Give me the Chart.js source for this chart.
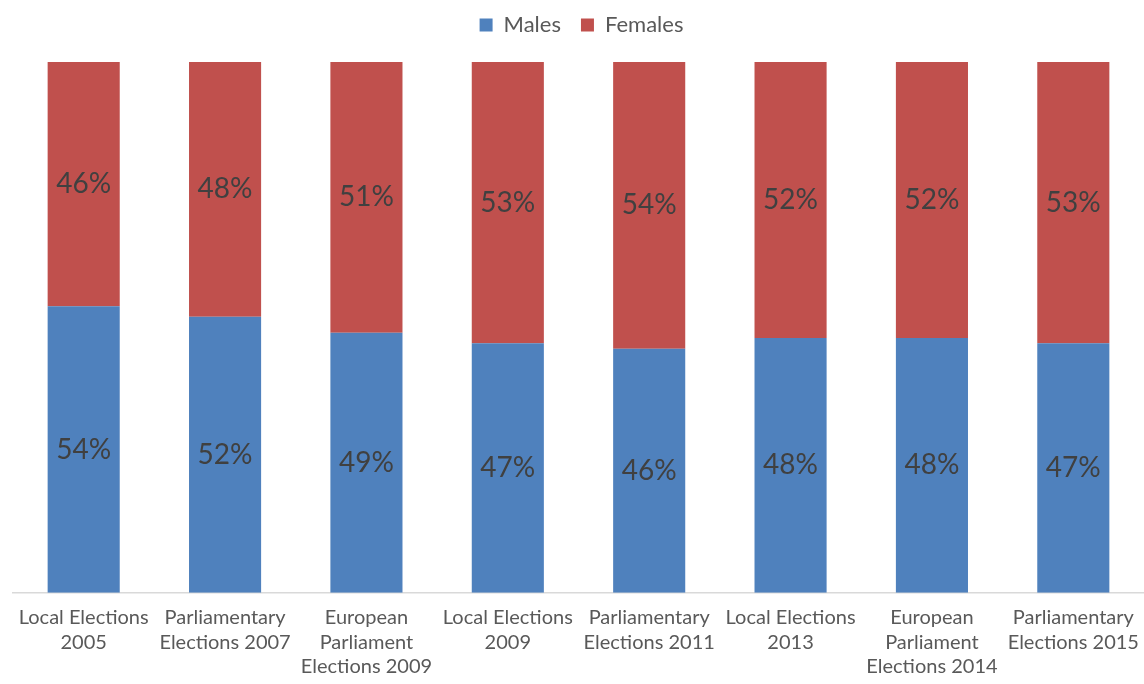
<!DOCTYPE html>
<html>
<head>
<meta charset="utf-8">
<script src="https://cdn.jsdelivr.net/npm/chart.js@4"></script>
<style>
html,body{margin:0;padding:0;background:#fff;}
#wrap{width:1144px;height:684px;position:relative;}
</style>
</head>
<body>
<div id="wrap"><canvas id="c" width="1144" height="684"></canvas></div>
<script>
const categories = [
  ["Local Elections", "2005"],
  ["Parliamentary", "Elections 2007"],
  ["European", "Parliament", "Elections 2009"],
  ["Local Elections", "2009"],
  ["Parliamentary", "Elections 2011"],
  ["Local Elections", "2013"],
  ["European", "Parliament", "Elections 2014"],
  ["Parliamentary", "Elections 2015"]
];
const males = [54, 52, 49, 47, 46, 48, 48, 47];
const females = [46, 48, 51, 53, 54, 52, 52, 53];

const FONT = "Lato, 'Open Sans', sans-serif";

const segLabels = {
  id: 'segLabels',
  afterDatasetsDraw(chart) {
    const ctx = chart.ctx;
    ctx.save();
    ctx.font = "28px " + FONT;
    ctx.fillStyle = "#404040";
    ctx.textAlign = "center";
    ctx.textBaseline = "middle";
    chart.data.datasets.forEach((ds, i) => {
      const meta = chart.getDatasetMeta(i);
      meta.data.forEach((el, j) => {
        const y = (el.y + el.base) / 2;
        ctx.fillText(ds.data[j] + "%", el.x, y);
      });
    });
    ctx.restore();
  }
};

const legendSpace = {
  id: 'legendSpace',
  beforeInit(chart) {
    const orig = chart.legend.fit;
    chart.legend.fit = function () {
      orig.call(this);
      this.height += 16;
    };
  }
};

new Chart(document.getElementById('c'), {
  type: 'bar',
  data: {
    labels: categories,
    datasets: [
      { label: 'Males', data: males, backgroundColor: '#4F81BD', borderWidth: 0,
        categoryPercentage: 1, barPercentage: 0.51 },
      { label: 'Females', data: females, backgroundColor: '#C0504D', borderWidth: 0,
        categoryPercentage: 1, barPercentage: 0.51 }
    ]
  },
  options: {
    responsive: false,
    animation: false,
    devicePixelRatio: 1,
    layout: { padding: { left: 13, right: -6, top: -6, bottom: 0 } },
    plugins: {
      legend: {
        position: 'top',
        labels: {
          boxWidth: 13, boxHeight: 13, padding: 20,
          color: '#595959',
          font: { family: FONT, size: 22 }
        }
      },
      tooltip: { enabled: false }
    },
    scales: {
      x: {
        stacked: true,
        grid: { display: false },
        border: { display: true, color: '#d9d9d9', width: 1.5 },
        ticks: {
          color: '#595959',
          font: { family: FONT, size: 20, lineHeight: 1.22 },
          maxRotation: 0, autoSkip: false, padding: 5
        }
      },
      y: {
        stacked: true, display: false, min: 0, max: 100
      }
    }
  },
  plugins: [segLabels, legendSpace]
});
</script>
</body>
</html>
